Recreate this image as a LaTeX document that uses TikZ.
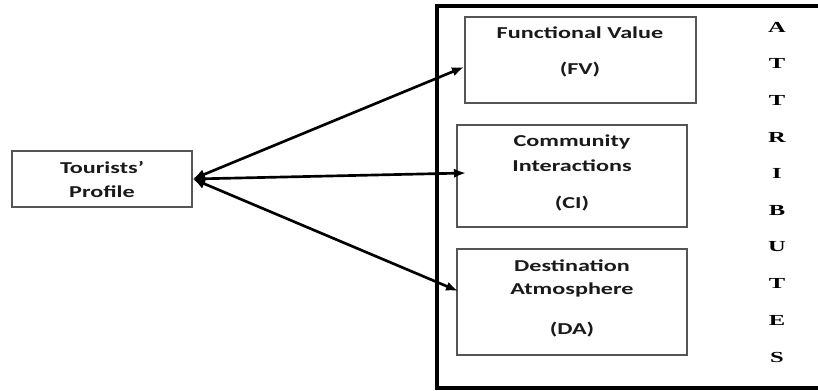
\documentclass[tikz,border=0pt]{standalone}
\usepackage{fontspec}
\setmainfont{Carlito}
\newfontfamily\attrfont{Liberation Serif}
\usetikzlibrary{arrows.meta}
\definecolor{txt}{HTML}{1a1a1a}
\definecolor{boxline}{HTML}{555555}
\tikzset{
  box/.style={draw=boxline, line width=1.1pt, rectangle, inner sep=0pt},
  lbl/.style={text=txt, font=\fontsize{12.5}{14}\selectfont\bfseries, xscale=1.45, transform shape, inner sep=0pt},
  attr/.style={text=black, font=\attrfont\fontsize{11.5}{13}\selectfont\bfseries, xscale=1.6, transform shape, inner sep=0pt},
  link/.style={line width=2pt, {Latex[length=9pt,width=8pt]}-{Latex[length=9pt,width=7pt]}},
  frame/.style={line width=2.6pt}
}
\begin{document}
\begin{tikzpicture}[x=0.75pt,y=-0.75pt]
\useasboundingbox (0,0) rectangle (818,391);
% big frame (open on right)
\coordinate (fa) at (818,6);
\coordinate (fb) at (437,6);
\coordinate (fc) at (437,388);
\coordinate (fd) at (818,388);
\draw[frame] (fa) -- (fb) -- (fc) -- (fd);
% boxes
\node[box, minimum width=180*0.75pt, minimum height=56*0.75pt] (tp) at (102,179) {};
\node[box, minimum width=231*0.75pt, minimum height=86*0.75pt] (fv) at (580.5,60) {};
\node[box, minimum width=230*0.75pt, minimum height=102*0.75pt] (ci) at (572,176) {};
\node[box, minimum width=230*0.75pt, minimum height=106*0.75pt] (da) at (572,302) {};
% labels
\node[lbl] (tp1) at (102,168) {Tourists’};
\node[lbl] (tp2) at (102,192) {Profile};
\node[lbl] (fv1) at (580,33) {Functional Value};
\node[lbl] (fv2) at (580,70) {(FV)};
\node[lbl] (ci1) at (572,142) {Community};
\node[lbl] (ci2) at (572,166) {Interactions};
\node[lbl] (ci3) at (572,204) {(CI)};
\node[lbl] (da1) at (572,266) {Destination};
\node[lbl] (da2) at (572,290) {Atmosphere};
\node[lbl] (da3) at (572,330) {(DA)};
% ATTRIBUTES
\foreach \ch [count=\i from 0] in {A,T,T,R,I,B,U,T,E,S} {
  \node[attr] (at\i) at (777,{27+\i*36.67}) {\ch};
}
% connectors
\coordinate (hub) at (193,179);
\coordinate (fvin) at (464,67);
\coordinate (ciin) at (466,173);
\coordinate (dain) at (458,291);
\draw[link] (hub) -- (fvin);
\draw[link] (hub) -- (ciin);
\draw[link] (hub) -- (dain);
\end{tikzpicture}
\end{document}
